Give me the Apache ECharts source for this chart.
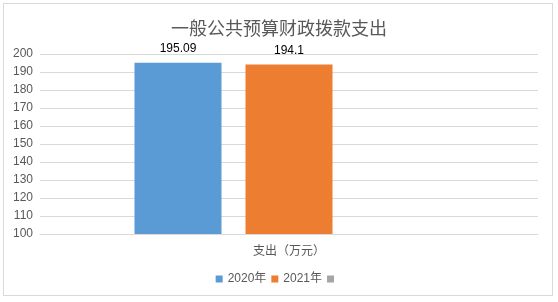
<!DOCTYPE html>
<html><head><meta charset="utf-8">
<script src="https://cdn.jsdelivr.net/npm/echarts@6/dist/echarts.min.js"></script>
<style>html,body{margin:0;padding:0;background:#fff}#c{width:558px;height:302px}
#frame{position:absolute;left:3px;top:3px;width:550px;height:293px;border:1px solid #d9d9d9;box-sizing:border-box;pointer-events:none}</style>
</head><body><div id="c"></div><div id="frame"></div>
<script>
const categories = ['支出（万元）'];
const seriesNames = ['2020年', '2021年', ' '];
const values2020 = [195.09];
const values2021 = [194.1];
const valuesEmpty = [null];
const yTicks = [100, 110, 120, 130, 140, 150, 160, 170, 180, 190, 200];

const chart = echarts.init(document.getElementById('c'));
const lbl = {show: true, position: 'top', color: '#000', fontSize: 12, fontFamily: 'Liberation Sans, Arial', distance: 8};
chart.setOption({
  animation: false,
  title: {text: '一般公共预算财政拨款支出', left: 'center', top: 14,
    textStyle: {fontSize: 18, fontWeight: 'normal', color: '#595959', fontFamily: 'Noto Sans CJK SC'}},
  grid: {left: 40, right: 20, top: 54, bottom: 68},
  legend: {bottom: 12, left: 'center', itemWidth: 7, itemHeight: 7, itemGap: 5, icon: 'rect',
    data: seriesNames,
    textStyle: {fontSize: 12, color: '#595959', fontFamily: 'Liberation Sans, Noto Sans CJK SC'}},
  xAxis: {type: 'category', data: categories,
    axisLine: {lineStyle: {color: '#d9d9d9'}}, axisTick: {show: false},
    axisLabel: {color: '#595959', fontSize: 12, margin: 10, fontFamily: 'Noto Sans CJK SC'}},
  yAxis: {type: 'value', min: yTicks[0], max: yTicks[yTicks.length - 1], interval: 10,
    axisLine: {show: false}, axisTick: {show: false},
    splitLine: {lineStyle: {color: '#d9d9d9'}},
    axisLabel: {color: '#595959', fontSize: 12, margin: 7, fontFamily: 'Liberation Sans, Arial'}},
  series: [
    {name: seriesNames[0], type: 'bar', data: values2020, barWidth: 87, barGap: '27.6%', itemStyle: {color: '#5b9bd5'}, label: lbl},
    {name: seriesNames[1], type: 'bar', data: values2021, barWidth: 87, barGap: '27.6%', itemStyle: {color: '#ed7d31'}, label: lbl},
    {name: seriesNames[2], type: 'bar', data: valuesEmpty, barWidth: 87, barGap: '27.6%', itemStyle: {color: '#a5a5a5'}}
  ]
});
</script></body></html>
